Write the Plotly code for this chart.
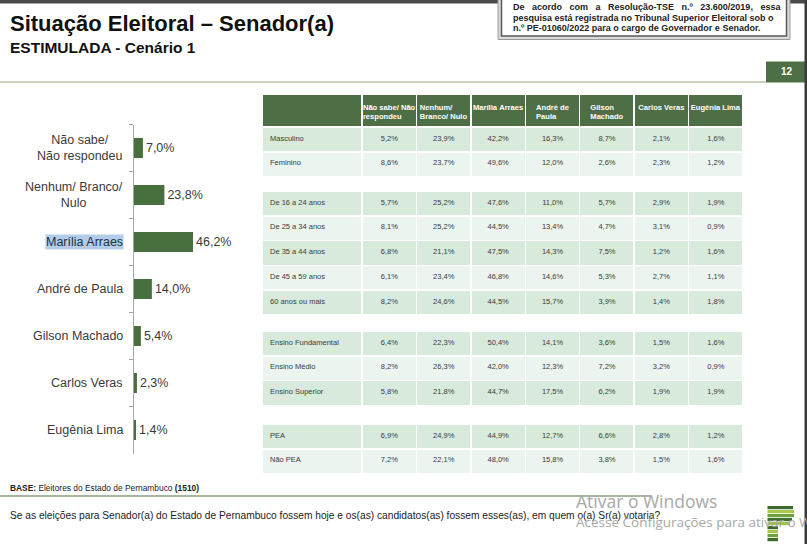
import plotly.graph_objects as go

W, H = 807, 544

# ---------------- data ----------------
bar_categories = ["Não sabe/<br>Não respondeu", "Nenhum/ Branco/<br>Nulo", "Marília Arraes",
                  "André de Paula", "Gilson Machado", "Carlos Veras", "Eugênia Lima"]
bar_values = [7.0, 23.8, 46.2, 14.0, 5.4, 2.3, 1.4]

table_columns = ["Não sabe/ Não<br>respondeu", "Nenhum/<br>Branco/ Nulo", "Marília Arraes",
                 "André de<br>Paula", "Gilson<br>Machado", "Carlos Veras", "Eugênia Lima"]

sex_rows = ["Masculino", "Feminino"]
sex_values = [
    [5.2, 23.9, 42.2, 16.3, 8.7, 2.1, 1.6],
    [8.6, 23.7, 49.6, 12.0, 2.6, 2.3, 1.2],
]
age_rows = ["De 16 a 24 anos", "De 25 a 34 anos", "De 35 a 44 anos", "De 45 a 59 anos", "60 anos ou mais"]
age_values = [
    [5.7, 25.2, 47.6, 11.0, 5.7, 2.9, 1.9],
    [8.1, 25.2, 44.5, 13.4, 4.7, 3.1, 0.9],
    [6.8, 21.1, 47.5, 14.3, 7.5, 1.2, 1.6],
    [6.1, 23.4, 46.8, 14.6, 5.3, 2.7, 1.1],
    [8.2, 24.6, 44.5, 15.7, 3.9, 1.4, 1.8],
]
edu_rows = ["Ensino Fundamental", "Ensino Médio", "Ensino Superior"]
edu_values = [
    [6.4, 22.3, 50.4, 14.1, 3.6, 1.5, 1.6],
    [8.2, 26.3, 42.0, 12.3, 7.2, 3.2, 0.9],
    [5.8, 21.8, 44.7, 17.5, 6.2, 1.9, 1.9],
]
pea_rows = ["PEA", "Não PEA"]
pea_values = [
    [6.9, 24.9, 44.9, 12.7, 6.6, 2.8, 1.2],
    [7.2, 22.1, 48.0, 15.8, 3.8, 1.5, 1.6],
]

# ---------------- style ----------------
FONT = "Arial, Liberation Sans, sans-serif"
GREEN = "#4e6e45"
BAR_GREEN = "#48703f"
ROW_DARK = "#d8eadc"
ROW_LIGHT = "#ebf4ee"
TXT = "#3a3a3a"
NB = "\u00a0"


def px(x):
    return x / W


def py(y):
    return 1 - y / H


def fmt(v):
    return f"{v:.1f}".replace(".", ",") + "%"


fig = go.Figure()

# ---------------- bar chart ----------------
fig.add_trace(go.Bar(
    y=bar_categories, x=bar_values, orientation="h",
    marker=dict(color=BAR_GREEN, line=dict(width=0)),
    text=[fmt(v) for v in bar_values], textposition="outside",
    textfont=dict(family=FONT, size=12.5, color=TXT),
    constraintext="none", cliponaxis=False,
    hoverinfo="skip", showlegend=False,
))

# ---------------- tables ----------------
col_widths = [100] + [54.4] * 7
aligns = ["left"] + ["center"] * 7
tbl_x = [px(262), px(743.5)]
RH = 24.8

# column header (own table so its taller row can sit in place)
fig.add_trace(go.Table(
    domain=dict(x=tbl_x, y=[py(130.5), py(94.5)]),
    columnwidth=col_widths,
    header=dict(values=[""] + ["<b>" + c.replace(" ", NB) + "</b>" for c in table_columns],
                fill_color=GREEN, line=dict(color="white", width=1.5),
                font=dict(family=FONT, size=7.6, color="white"),
                align="center", height=32),
    cells=dict(values=[[""] for _ in range(8)], fill_color="white",
               line=dict(color="white", width=0), height=4),
))


def columns_of(rows, values):
    cols = [list(rows)]
    for j in range(7):
        cols.append([fmt(values[i][j]) for i in range(len(rows))])
    return cols


def row_fill(n, start_dark):
    return [ROW_DARK if ((i % 2 == 0) == start_dark) else ROW_LIGHT for i in range(n)]


def group_table(rows, values, top):
    cols = columns_of(rows, values)
    head = [c[0] for c in cols]
    body = [c[1:] for c in cols]
    n = len(rows)
    fig.add_trace(go.Table(
        domain=dict(x=tbl_x, y=[py(top + n * RH + 2), py(top)]),
        columnwidth=col_widths,
        header=dict(values=head, fill_color=ROW_DARK,
                    line=dict(color="white", width=1.5),
                    font=dict(family=FONT, size=7.5, color=TXT),
                    align=aligns, height=RH),
        cells=dict(values=body, fill_color=[row_fill(n - 1, False)] * 8,
                   line=dict(color="white", width=1.5),
                   font=dict(family=FONT, size=7.5, color=TXT),
                   align=aligns, height=RH),
    ))


group_table(sex_rows, sex_values, 127)
group_table(age_rows, age_values, 191)
group_table(edu_rows, edu_values, 331)
group_table(pea_rows, pea_values, 424)

# ---------------- annotations ----------------
ann = []
for c in bar_categories:
    is_hl = c == "Marília Arraes"
    ann.append(dict(
        x=px(123.5), xref="paper", y=c, yref="y", xanchor="right", yanchor="middle",
        text=c, align="center", showarrow=False,
        font=dict(family=FONT, size=12.5, color="#1f2f44" if is_hl else TXT),
        bgcolor="#b3cde8" if is_hl else "rgba(0,0,0,0)", borderpad=0,
    ))

other = [
    dict(x=px(8), y=py(24), text="<b>Situação Eleitoral – Senador(a)</b>",
         font=dict(family=FONT, size=22, color="#111")),
    dict(x=px(8), y=py(47), text="<b>ESTIMULADA - Cenário 1</b>",
         font=dict(family=FONT, size=15.5, color="#111")),
    dict(x=px(511), y=py(6.5),
         text="<b>De" + NB * 2 + " acordo" + NB * 2 + " com" + NB * 2 + " a" + NB * 2 + " Resolução-TSE"
              + NB * 2 + " n.º" + NB * 2 + " 23.600/2019," + NB * 2 + " essa</b>",
         font=dict(family=FONT, size=9, color="#222")),
    dict(x=px(511), y=py(17.5),
         text="<b>pesquisa está registrada no Tribunal Superior Eleitoral sob o</b>",
         font=dict(family=FONT, size=9, color="#222")),
    dict(x=px(511), y=py(28.5),
         text="<b>n.º PE-01060/2022 para o cargo de Governador e Senador.</b>",
         font=dict(family=FONT, size=9, color="#222")),
    dict(x=px(786.5), y=py(72), xanchor="center", text="<b>12</b>",
         font=dict(family=FONT, size=10, color="white")),
    dict(x=px(8), y=py(488),
         text="<b>BASE:</b> Eleitores do Estado de Pernambuco <b>(1510)</b>",
         font=dict(family=FONT, size=8.4, color="#222")),
    dict(x=px(8), y=py(515),
         text="Se as eleições para Senador(a) do Estado de Pernambuco fossem hoje e os(as) candidatos(as) fossem esses(as), em quem o(a) Sr(a) votaria?",
         font=dict(family=FONT, size=10.2, color="#222")),
    dict(x=px(574), y=py(501), text="Ativar o Windows",
         font=dict(family="Open Sans", size=17.5, color="#a8a8a8")),
    dict(x=px(574), y=py(522), text="Acesse Configurações para ativar o Windows",
         font=dict(family="Open Sans", size=13.5, color="#a8a8a8")),
]
for a in other:
    a.setdefault("xanchor", "left")
    a.update(xref="paper", yref="paper", yanchor="middle", showarrow=False, align="left")
ann += other

# ---------------- shapes ----------------
def rect(x0, y0, x1, y1, fill, line=None, layer="below"):
    d = dict(type="rect", xref="paper", yref="paper", x0=px(x0), x1=px(x1), y0=py(y1), y1=py(y0),
             fillcolor=fill, layer=layer)
    d["line"] = line if line else dict(width=0)
    return d


def hline(x0, x1, y, color, width):
    return dict(type="line", xref="paper", yref="paper", x0=px(x0), x1=px(x1), y0=py(y), y1=py(y),
                line=dict(color=color, width=width))


shapes = [
    rect(0, 0, 807, 3.5, "#4a4a4a"),
    rect(498, -2, 790, 39.5, "#d9d9d9", dict(color="#9a9a9a", width=1)),
    rect(501.5, -2, 786.5, 36, "white", dict(color="#595959", width=1.5)),
    hline(0, 766, 82, "#b8c2a8", 1.5),
    rect(766, 61.5, 807, 82.5, GREEN),
    hline(0, 650, 496, "#4f7042", 1.2),
    rect(804.5, 0, 807, 544, "#3a3a3a", layer="above"),
]
logo = [(506, 793, "#3e6b2c"), (510, 794, "#a7c94a"), (514, 794, "#6ea23c"), (518, 792, "#3e6b2c"),
        (522, 790, "#9cc43c"), (526, 778, "#3e6b2c"), (530, 778, "#a7c94a"), (534, 778, "#6ea23c"),
        (538, 778, "#3e6b2c")]
for y0, x1, col in logo:
    shapes.append(rect(767.5, y0, x1, y0 + 3.2, col, layer="above"))

fig.update_layout(
    width=W, height=H, margin=dict(l=0, r=0, t=0, b=0),
    paper_bgcolor="white", plot_bgcolor="white",
    showlegend=False, bargap=0.575,
    xaxis=dict(domain=[px(134), px(249)], range=[0, 90], visible=False, fixedrange=True),
    yaxis=dict(domain=[py(453.5), py(124.5)], categoryorder="array", categoryarray=bar_categories,
               autorange="reversed", showticklabels=False, showline=True, linecolor="#a6a6a6",
               linewidth=1, ticks="outside", tickson="boundaries", ticklen=4, tickcolor="#a6a6a6",
               showgrid=False, zeroline=False, fixedrange=True),
    annotations=ann, shapes=shapes,
)

fig.write_html("out.html", config={"displayModeBar": False},
               post_script="document.body.style.margin='0px';document.body.style.overflow='hidden';")
